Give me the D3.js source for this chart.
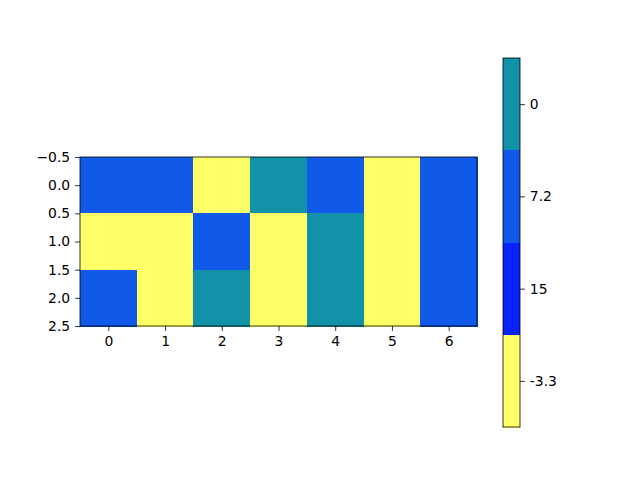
<!DOCTYPE html>
<html><head><meta charset="utf-8">
<script src="https://cdn.jsdelivr.net/npm/d3@7"></script>
<style>body{margin:0;background:#fff}svg{display:block}</style>
</head><body>
<svg id="c" width="640" height="480"></svg>
<script>
const categories = [0, 7.2, 15, -3.3];
const categoryLabels = ["0", "7.2", "15", "-3.3"];
const categoryColors = ["#1192a8", "#1059e9", "#0a22fd", "#ffff66"];
const gridValues = [
  [7.2, 7.2, -3.3, 0, 7.2, -3.3, 7.2],
  [-3.3, -3.3, 7.2, -3.3, 0, -3.3, 7.2],
  [7.2, -3.3, 0, -3.3, 0, -3.3, 7.2]
];
const xTicks = [0, 1, 2, 3, 4, 5, 6];
const yTicks = [-0.5, 0.0, 0.5, 1.0, 1.5, 2.0, 2.5];

const svg = d3.select("#c");
const font = "DejaVu Sans, sans-serif";
const fs = "13.9px";
const L = 80, R = 477, T = 157, B = 326;
const nC = gridValues[0].length, nR = gridValues.length;
const x = d3.scaleLinear().domain([-0.5, nC - 0.5]).range([L, R]);
const y = d3.scaleLinear().domain([-0.5, nR - 0.5]).range([T, B]);
const color = d3.scaleOrdinal().domain(categories).range(categoryColors);

const cells = [];
gridValues.forEach((row, r) => row.forEach((v, c) => cells.push({r, c, v})));
svg.append("g").selectAll("rect").data(cells).join("rect")
  .attr("x", d => x(d.c - 0.5)).attr("y", d => y(d.r - 0.5))
  .attr("width", d => x(d.c + 0.5) - x(d.c - 0.5) + 0.5)
  .attr("height", d => y(d.r + 0.5) - y(d.r - 0.5) + 0.5)
  .attr("fill", d => color(d.v)).attr("shape-rendering", "crispEdges");

const fmtY = d => d3.format(".1f")(d).replace("-", "\u2212");
const xAxis = svg.append("g").attr("transform", `translate(0,${B})`)
  .call(d3.axisBottom(x).tickValues(xTicks).tickFormat(d3.format("d")).tickSize(4.9).tickPadding(4.9));
const yAxis = svg.append("g").attr("transform", `translate(${L},0)`)
  .call(d3.axisLeft(y).tickValues(yTicks).tickFormat(fmtY).tickSize(4.9).tickPadding(4.9));
[xAxis, yAxis].forEach(a => {
  a.selectAll("text").attr("font-family", font).style("font-size", fs).attr("fill", "#000");
  a.selectAll("line").attr("stroke", "#000").attr("stroke-width", 0.8);
  a.select(".domain").remove();
});
svg.append("rect").attr("x", L).attr("y", T).attr("width", R - L).attr("height", B - T)
  .attr("fill", "none").attr("stroke", "#000").attr("stroke-width", 0.8);

// colorbar
const CL = 503, CR = 520, CT = 58, CB = 427;
const cb = d3.scaleBand().domain(categories.map((d, i) => i)).range([CT, CB]).padding(0);
svg.append("g").selectAll("rect").data(categories).join("rect")
  .attr("x", CL).attr("y", (d, i) => cb(i)).attr("width", CR - CL).attr("height", cb.bandwidth() + 0.5)
  .attr("fill", d => color(d)).attr("shape-rendering", "crispEdges");
const cbAxis = svg.append("g").attr("transform", `translate(${CR},0)`)
  .call(d3.axisRight(d3.scalePoint().domain(categoryLabels).range([CT + cb.bandwidth() / 2, CB - cb.bandwidth() / 2]))
    .tickSize(4.9).tickPadding(4.9));
cbAxis.selectAll("text").attr("font-family", font).style("font-size", fs).attr("fill", "#000");
cbAxis.selectAll("line").attr("stroke", "#000").attr("stroke-width", 0.8);
cbAxis.select(".domain").remove();
svg.append("rect").attr("x", CL).attr("y", CT).attr("width", CR - CL).attr("height", CB - CT)
  .attr("fill", "none").attr("stroke", "#000").attr("stroke-width", 0.8);
</script>
</body></html>
